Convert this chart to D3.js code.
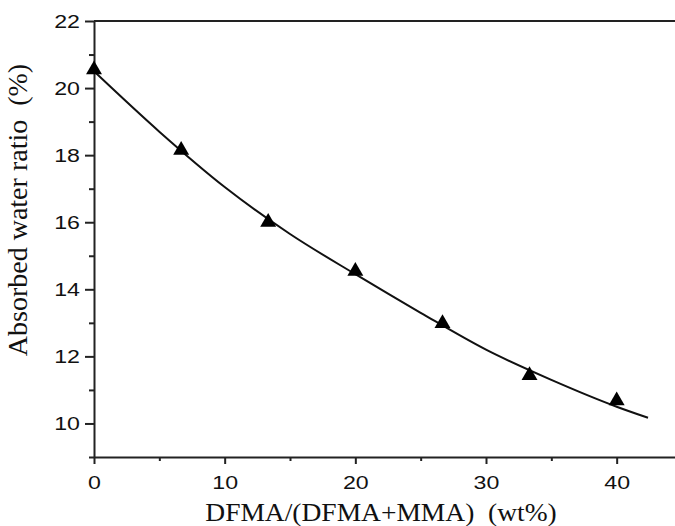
<!DOCTYPE html>
<html>
<head>
<meta charset="utf-8">
<script src="https://cdn.jsdelivr.net/npm/d3@7"></script>
<style>
  body { margin: 0; background: #fff; }
  .tick text { font-family: "Liberation Sans", Arial, sans-serif; }
</style>
</head>
<body>
<div id="chart"></div>
<script>
// measured points
const dfma = [0, 6.67, 13.33, 20, 26.67, 33.33, 40];
const absorbed = [20.55, 18.15, 16.0, 14.54, 12.98, 11.43, 10.68];

// fitted curve
const fitX = [0, 5, 10, 15, 20, 25, 30, 35, 40, 42.4];
const fitY = [20.5, 18.7, 17.05, 15.65, 14.45, 13.3, 12.2, 11.3, 10.5, 10.17];

const xMajor = [0, 10, 20, 30, 40];
const xMinor = [5, 15, 25, 35];
const yMajor = [10, 12, 14, 16, 18, 20, 22];
const yMinor = [9, 11, 13, 15, 17, 19, 21];

const width = 675, height = 526;
const margin = { top: 21, right: -7, bottom: 69, left: 94 };

const svg = d3.select("#chart").append("svg")
    .attr("width", width)
    .attr("height", height);

const xScale = d3.scaleLinear()
    .domain([0, 45])
    .range([margin.left, width - margin.right]);

const yScale = d3.scaleLinear()
    .domain([9, 22])
    .range([height - margin.bottom, margin.top]);

const axisColor = "#222";
const stretch = 1.22; // the tick digits in the picture are wide

// bottom axis
svg.append("g")
    .attr("transform", `translate(0,${height - margin.bottom})`)
    .call(d3.axisBottom(xScale).tickValues(xMinor).tickSize(4).tickFormat("").tickSizeOuter(0))
    .call(g => g.select(".domain").remove());

svg.append("g")
    .attr("class", "x-axis")
    .attr("transform", `translate(0,${height - margin.bottom})`)
    .call(d3.axisBottom(xScale).tickValues(xMajor).tickSize(7).tickPadding(12).tickSizeOuter(0))
    .call(g => g.selectAll("text")
        .attr("font-size", 19)
        .attr("fill", "#111")
        .attr("transform", `scale(${stretch},1)`));

// left axis
svg.append("g")
    .attr("transform", `translate(${margin.left},0)`)
    .call(d3.axisLeft(yScale).tickValues(yMinor).tickSize(5).tickFormat("").tickSizeOuter(0))
    .call(g => g.select(".domain").remove());

svg.append("g")
    .attr("class", "y-axis")
    .attr("transform", `translate(${margin.left},0)`)
    .call(d3.axisLeft(yScale).tickValues(yMajor).tickSize(9).tickSizeOuter(0))
    .call(g => g.selectAll("text")
        .attr("font-size", 19)
        .attr("fill", "#111")
        .attr("x", -14 / stretch)
        .attr("transform", `scale(${stretch},1)`));

svg.selectAll(".domain, .tick line")
    .attr("stroke", axisColor)
    .attr("stroke-width", 2);

// top frame line
svg.append("line")
    .attr("x1", margin.left).attr("x2", width)
    .attr("y1", yScale(22)).attr("y2", yScale(22))
    .attr("stroke", axisColor)
    .attr("stroke-width", 2);

// fitted curve
const fit = fitX.map((x, i) => ({ x: x, y: fitY[i] }));
const line = d3.line()
    .x(d => xScale(d.x))
    .y(d => yScale(d.y))
    .curve(d3.curveMonotoneX);

svg.append("path")
    .datum(fit)
    .attr("d", line)
    .attr("fill", "none")
    .attr("stroke", "#111")
    .attr("stroke-width", 2);

// triangles
const pts = dfma.map((x, i) => ({ x: x, y: absorbed[i] }));
svg.selectAll(".pt")
    .data(pts)
    .enter()
    .append("path")
    .attr("class", "pt")
    .attr("d", d3.symbol().type(d3.symbolTriangle).size(110))
    .attr("transform", d => `translate(${xScale(d.x)},${yScale(d.y)})`)
    .attr("fill", "#000");

// axis titles
svg.append("text")
    .attr("transform", "translate(381,521) scale(1.1,1)")
    .attr("text-anchor", "middle")
    .attr("font-family", "'Liberation Serif', 'Times New Roman', serif")
    .attr("font-size", 25)
    .attr("fill", "#111")
    .attr("xml:space", "preserve")
    .text("DFMA/(DFMA+MMA)  (wt%)");

svg.append("text")
    .attr("transform", "translate(27,210) rotate(-90)")
    .attr("text-anchor", "middle")
    .attr("font-family", "'Liberation Serif', 'Times New Roman', serif")
    .attr("font-size", 28)
    .attr("fill", "#111")
    .attr("xml:space", "preserve")
    .text("Absorbed water ratio  (%)");
</script>
</body>
</html>
